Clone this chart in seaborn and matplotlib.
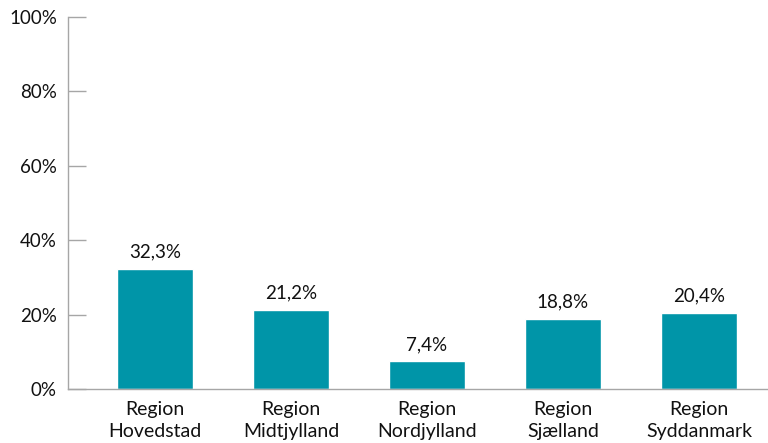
import matplotlib
matplotlib.use("Agg")
import matplotlib.pyplot as plt
import seaborn as sns
import pandas as pd

regions = ["Region\nHovedstad", "Region\nMidtjylland", "Region\nNordjylland", "Region\nSjælland", "Region\nSyddanmark"]
values = [32.3, 21.2, 7.4, 18.8, 20.4]
yticks = [0, 20, 40, 60, 80, 100]

sns.set_theme(style="white")
plt.rcParams['font.family'] = ['Lato', 'DejaVu Sans']

df = pd.DataFrame({"region": regions, "value": values})
fig = plt.figure(figsize=(7.68, 4.43), dpi=100)
ax = fig.add_axes([68/768, (443-389)/443, (767-68)/768, (389-17)/443])
sns.barplot(data=df, x="region", y="value", color="#0095A8", saturation=1, width=0.56, ax=ax)
ax.set_xlim(-0.5 - 19/136, 4.5)
ax.set_ylim(0, 100)
ax.set_yticks(yticks)
ax.set_yticklabels([f"{t}%" for t in yticks], fontsize=13.5, color="#111111")
ax.tick_params(axis="y", direction="in", length=13, width=1, color="#A6A6A6", left=True, pad=8)
ax.tick_params(axis="x", length=0, labelsize=14, labelcolor="#111111", pad=9)
for lbl in ax.get_xticklabels():
    lbl.set_linespacing(1.35)
ax.set_xlabel("")
ax.set_ylabel("")
for s in ["top", "right"]:
    ax.spines[s].set_visible(False)
for s in ["left", "bottom"]:
    ax.spines[s].set_color("#A6A6A6")
    ax.spines[s].set_linewidth(1)
for i, v in enumerate(values):
    ax.annotate(f"{v:.1f}%".replace(".", ","), (i, v), xytext=(0, 6), textcoords="offset points",
                ha="center", va="bottom", fontsize=13.5, color="#111111")
fig.savefig("out.png", dpi=100)
